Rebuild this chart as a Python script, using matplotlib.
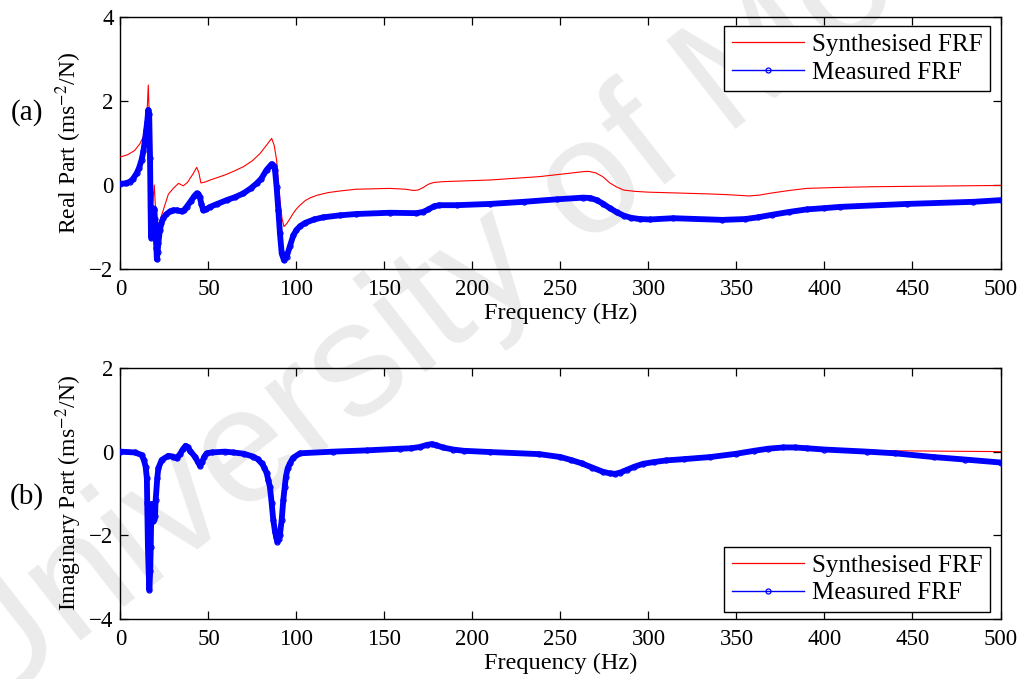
import matplotlib
matplotlib.use("Agg")
import matplotlib.pyplot as plt
from matplotlib.lines import Line2D

# ---------------- data ----------------
# (a) real part, synthesised FRF
f_syn_re = [0, 4, 8, 11, 13, 14.5, 15.3, 15.8, 16.4, 17.0, 17.6, 18.2, 18.8, 19.2, 19.7,
            20.3, 21.1, 22, 24.3, 27.2, 30, 33, 35.7, 38, 41, 43.3, 44.5, 45.7, 48, 51,
            59.4, 65, 70, 75, 79.3, 83, 85.9, 87.3, 88.7, 89.7, 90.6, 91.8, 92.9, 94.5,
            96.3, 98.2, 100, 102, 105, 108, 112, 118, 125, 134, 153, 162, 166.4, 169, 172,
            175, 178, 183, 190, 210, 238, 255, 263, 266, 270, 274, 278, 282, 286, 292, 300,
            333, 345, 357, 363, 370, 380, 390, 405, 428, 500]
syn_re = [0.67, 0.72, 0.82, 0.98, 1.15, 1.5, 1.9, 2.38, 1.6, 0.4, -0.5, -0.55, -0.2, 0.0, -0.4,
          -0.8, -1.03, -0.9, -0.6, -0.22, -0.08, 0.04, -0.02, 0.06, 0.25, 0.42, 0.3, 0.05, 0.07, 0.12,
          0.24, 0.34, 0.44, 0.58, 0.75, 0.95, 1.11, 0.95, 0.6, 0.1, -0.36, -0.8, -0.99, -0.92,
          -0.8, -0.67, -0.57, -0.48, -0.37, -0.3, -0.24, -0.18, -0.14, -0.1, -0.08, -0.1, -0.13, -0.12, -0.06,
          0.02, 0.06, 0.08, 0.09, 0.12, 0.2, 0.28, 0.32, 0.325, 0.29, 0.2, 0.05, -0.05, -0.12, -0.15, -0.17,
          -0.21, -0.23, -0.26, -0.24, -0.19, -0.13, -0.08, -0.06, -0.04, -0.01]

# (a) real part, measured FRF
f_meas_re = [0, 3, 5.4, 7, 9.2, 10.5, 12, 13, 13.9, 14.6, 15.2, 15.8, 16.3, 16.8, 17.1, 17.3,
             17.6, 18.0, 18.3, 18.8, 19.2, 19.6, 20.0, 20.4, 20.7, 21.1, 21.5, 22.4, 23.3, 24.3,
             26, 28.1, 30, 31.9, 34.8, 36, 37.6, 40, 42, 43.3, 44.3, 45, 46, 47, 48.5, 50.9, 55,
             60.3, 65, 69.8, 74, 77.4, 80, 83, 85.9, 87, 87.8, 88.7, 89.7, 90.6, 91.6, 92.9,
             94.4, 96.3, 98.2, 100, 102, 105, 110, 115, 125, 134, 153, 168, 172, 175, 178, 181,
             191, 210, 229, 248, 263, 267, 270.6, 274, 278, 282, 286, 290, 295, 301, 314, 342,
             355, 362, 370, 380, 390, 400, 409, 447, 484.5, 500]
meas_re = [0.03, 0.04, 0.08, 0.14, 0.28, 0.4, 0.6, 0.8, 1.07, 1.3, 1.51, 1.79, 1.7, 0.64, -0.52, -1.07,
           -1.26, -0.9, -0.75, -0.6, -0.56, -0.8, -1.2, -1.5, -1.77, -1.6, -1.39, -1.07, -0.9, -0.79,
           -0.7, -0.63, -0.6, -0.6, -0.63, -0.6, -0.52, -0.38, -0.26, -0.2, -0.22, -0.28, -0.45, -0.6, -0.58, -0.52, -0.45,
           -0.36, -0.29, -0.2, -0.08, 0.04, 0.15, 0.36, 0.5, 0.45, 0.36, -0.04, -0.6, -1.15, -1.63, -1.79,
           -1.71, -1.45, -1.2, -1.07, -0.98, -0.9, -0.82, -0.77, -0.72, -0.69, -0.66, -0.67, -0.64, -0.58, -0.51, -0.48,
           -0.48, -0.45, -0.4, -0.34, -0.3, -0.31, -0.36, -0.44, -0.55, -0.65, -0.73, -0.78, -0.81, -0.82, -0.79, -0.83,
           -0.81, -0.77, -0.71, -0.64, -0.58, -0.55, -0.52, -0.45, -0.4, -0.36]

# (b) imaginary part, synthesised FRF
f_syn_im = [0, 8, 12, 13.5, 14.5, 15.2, 15.8, 16.3, 16.8, 17.3, 17.8, 18.3, 18.8, 19.4, 20.1,
            21, 22, 23.4, 27, 30, 32, 34, 37, 39.5, 42.3, 45.2, 47.6, 50, 60, 70, 75.5, 80.2,
            83.1, 85, 86.8, 88, 89.3, 90.3, 91.3, 92.5, 93.5, 94.5, 96, 98, 102, 121, 140,
            158.8, 165, 170, 174, 176.8, 179, 183, 189, 195, 210, 238, 250, 256, 262, 268, 274,
            278, 281, 284, 288, 292, 297, 303, 310, 320, 335, 350, 360, 368, 376.6, 383, 390,
            400, 424, 440, 470, 500]
syn_im = [0.0, -0.02, -0.1, -0.25, -0.5, -1.2, -2.3, -2.9, -2.6, -2.0, -1.6, -1.55, -1.65, -1.5, -1.0,
          -0.6, -0.35, -0.22, -0.11, -0.12, -0.15, -0.05, 0.13, 0.02, -0.12, -0.32, -0.12, -0.03, 0.0, -0.05, -0.12, -0.27,
          -0.5, -0.85, -1.55, -1.9, -2.05, -1.95, -1.7, -1.3, -0.95, -0.65, -0.4, -0.2, -0.06, 0.0, 0.03,
          0.07, 0.08, 0.11, 0.16, 0.18, 0.16, 0.1, 0.05, 0.02, -0.01, -0.06, -0.13, -0.2, -0.28, -0.38, -0.48,
          -0.52, -0.53, -0.5, -0.43, -0.36, -0.29, -0.25, -0.21, -0.18, -0.13, -0.05, 0.02, 0.07, 0.1, 0.1, 0.08,
          0.06, 0.03, 0.02, 0.01, 0.0]

# (b) imaginary part, measured FRF
f_meas_im = [0, 8.2, 12, 13.3, 14.3, 15.0, 15.2, 15.6, 16.0, 16.4, 16.9, 17.2, 17.5, 17.7, 18.2,
             18.7, 19.2, 19.6, 20.0, 20.9, 21.5, 23.4, 27.2, 30, 31.9, 33.8, 35.5, 37, 38.3, 39.5,
             42.3, 44, 45.2, 46.4, 47.6, 49, 51.8, 59.4, 64.1, 70, 75.5, 78, 80.2, 81.8, 83.1, 84.0,
             84.9, 85.9, 86.8, 87.8, 88.5, 89.1, 89.8, 90.6, 91.6, 92.5, 93.3, 94, 95, 96.3, 98,
             102, 121, 140, 158.8, 165, 170, 174, 176.8, 179, 183, 189, 195, 210, 238, 250, 256,
             262, 268, 274, 278, 281, 284, 288, 292, 297, 303, 310, 320, 335, 350, 360, 368,
             376.6, 383, 390, 400, 424, 440, 462, 480, 500]
meas_im = [0.0, -0.02, -0.08, -0.2, -0.36, -0.64, -1.23, -2.27, -2.85, -3.3, -2.85, -2.27, -1.5, -1.25, -1.55,
           -1.67, -1.6, -1.55, -1.16, -0.64, -0.4, -0.2, -0.1, -0.12, -0.16, -0.06, 0.06, 0.14, 0.1, 0.02,
           -0.12, -0.25, -0.34, -0.25, -0.12, -0.04, -0.02, 0.0, -0.02, -0.05, -0.12, -0.18, -0.28, -0.38, -0.52, -0.68,
           -0.84, -1.23, -1.63, -1.91, -2.05, -2.15, -2.1, -1.99, -1.63, -1.16, -0.85, -0.6, -0.4, -0.28, -0.15,
           -0.04, 0.0, 0.03, 0.07, 0.08, 0.11, 0.16, 0.18, 0.16, 0.1, 0.05, 0.02, -0.01, -0.06, -0.13, -0.2,
           -0.28, -0.38, -0.48, -0.52, -0.53, -0.5, -0.43, -0.36, -0.29, -0.25, -0.21, -0.18, -0.13, -0.05, 0.02, 0.07,
           0.1, 0.1, 0.08, 0.05, 0.0, -0.04, -0.13, -0.19, -0.26]

xticks = [0, 50, 100, 150, 200, 250, 300, 350, 400, 450, 500]
yticks_re = [-2, 0, 2, 4]
yticks_im = [-4, -2, 0, 2]
labels = ["Synthesised FRF", "Measured FRF"]

for a, b in [(f_syn_re, syn_re), (f_meas_re, meas_re), (f_syn_im, syn_im), (f_meas_im, meas_im)]:
    assert len(a) == len(b), (len(a), len(b))

# ---------------- style ----------------
plt.rcParams['font.family'] = ['Liberation Serif', 'DejaVu Serif']
plt.rcParams['mathtext.fontset'] = 'stix'

RED = '#ff0000'
BLUE = '#0000ff'

fig = plt.figure(figsize=(10.27, 6.79), dpi=100)

# watermark (behind everything)
fig.text(-0.02, -0.06, "University of Moratuwa", rotation=38, rotation_mode='anchor',
         ha='left', va='baseline', fontsize=118, color='#ebebeb',
         family='Liberation Sans', zorder=-5)

ax1 = fig.add_axes([0.1173, 0.6038, 0.8569, 0.3711])
ax2 = fig.add_axes([0.1173, 0.0884, 0.8569, 0.3697])


def draw(ax, fs, s, fm, m, yticks, ylim, ylabel, legloc, anchor):
    ax.set_facecolor('none')
    ax.plot(fs, s, color=RED, lw=0.8, zorder=3)
    ax.plot(fm, m, color=BLUE, lw=4.2, solid_capstyle='round', solid_joinstyle='round', zorder=4)
    ax.plot(fm, m, color=BLUE, lw=1.0, marker='o', ms=3.6, mfc='none', mew=0.9, zorder=5)
    ax.set_xlim(0, 500)
    ax.set_ylim(*ylim)
    ax.set_xticks(xticks)
    ax.set_yticks(yticks)
    ax.tick_params(direction='in', top=True, right=True, length=5.5, width=0.9,
                   labelsize=16.5)
    ax.tick_params(axis='x', pad=7)
    ax.tick_params(axis='y', pad=5)
    for sp in ax.spines.values():
        sp.set_linewidth(1.0)
    ax.set_xlabel("Frequency (Hz)", fontsize=17.5, labelpad=2)
    ax.set_ylabel(ylabel, fontsize=17, labelpad=4)
    handles = [Line2D([], [], color=RED, lw=0.9),
               Line2D([], [], color=BLUE, lw=1.0, marker='o', ms=3.6, mfc='none', mew=0.9)]
    leg = ax.legend(handles, labels, loc=legloc, bbox_to_anchor=anchor, borderaxespad=0,
                    fontsize=18, fancybox=False, framealpha=1, edgecolor='black',
                    handlelength=2.9, handletextpad=0.3, borderpad=0.3, labelspacing=0.2,
                    numpoints=1)
    leg.get_frame().set_linewidth(1.0)
    leg.set_zorder(10)


draw(ax1, f_syn_re, syn_re, f_meas_re, meas_re, yticks_re, (-2, 4),
     "Real Part (ms$^{-2}$/N)", 'upper right', (0.988, 0.964))
draw(ax2, f_syn_im, syn_im, f_meas_im, meas_im, yticks_im, (-4, 2),
     "Imaginary Part (ms$^{-2}$/N)", 'lower right', (0.988, 0.028))

fig.text(0.026, 0.835, "(a)", fontsize=21, ha='center', va='center')
fig.text(0.026, 0.269, "(b)", fontsize=21, ha='center', va='center')

fig.savefig("out.png", dpi=100)
